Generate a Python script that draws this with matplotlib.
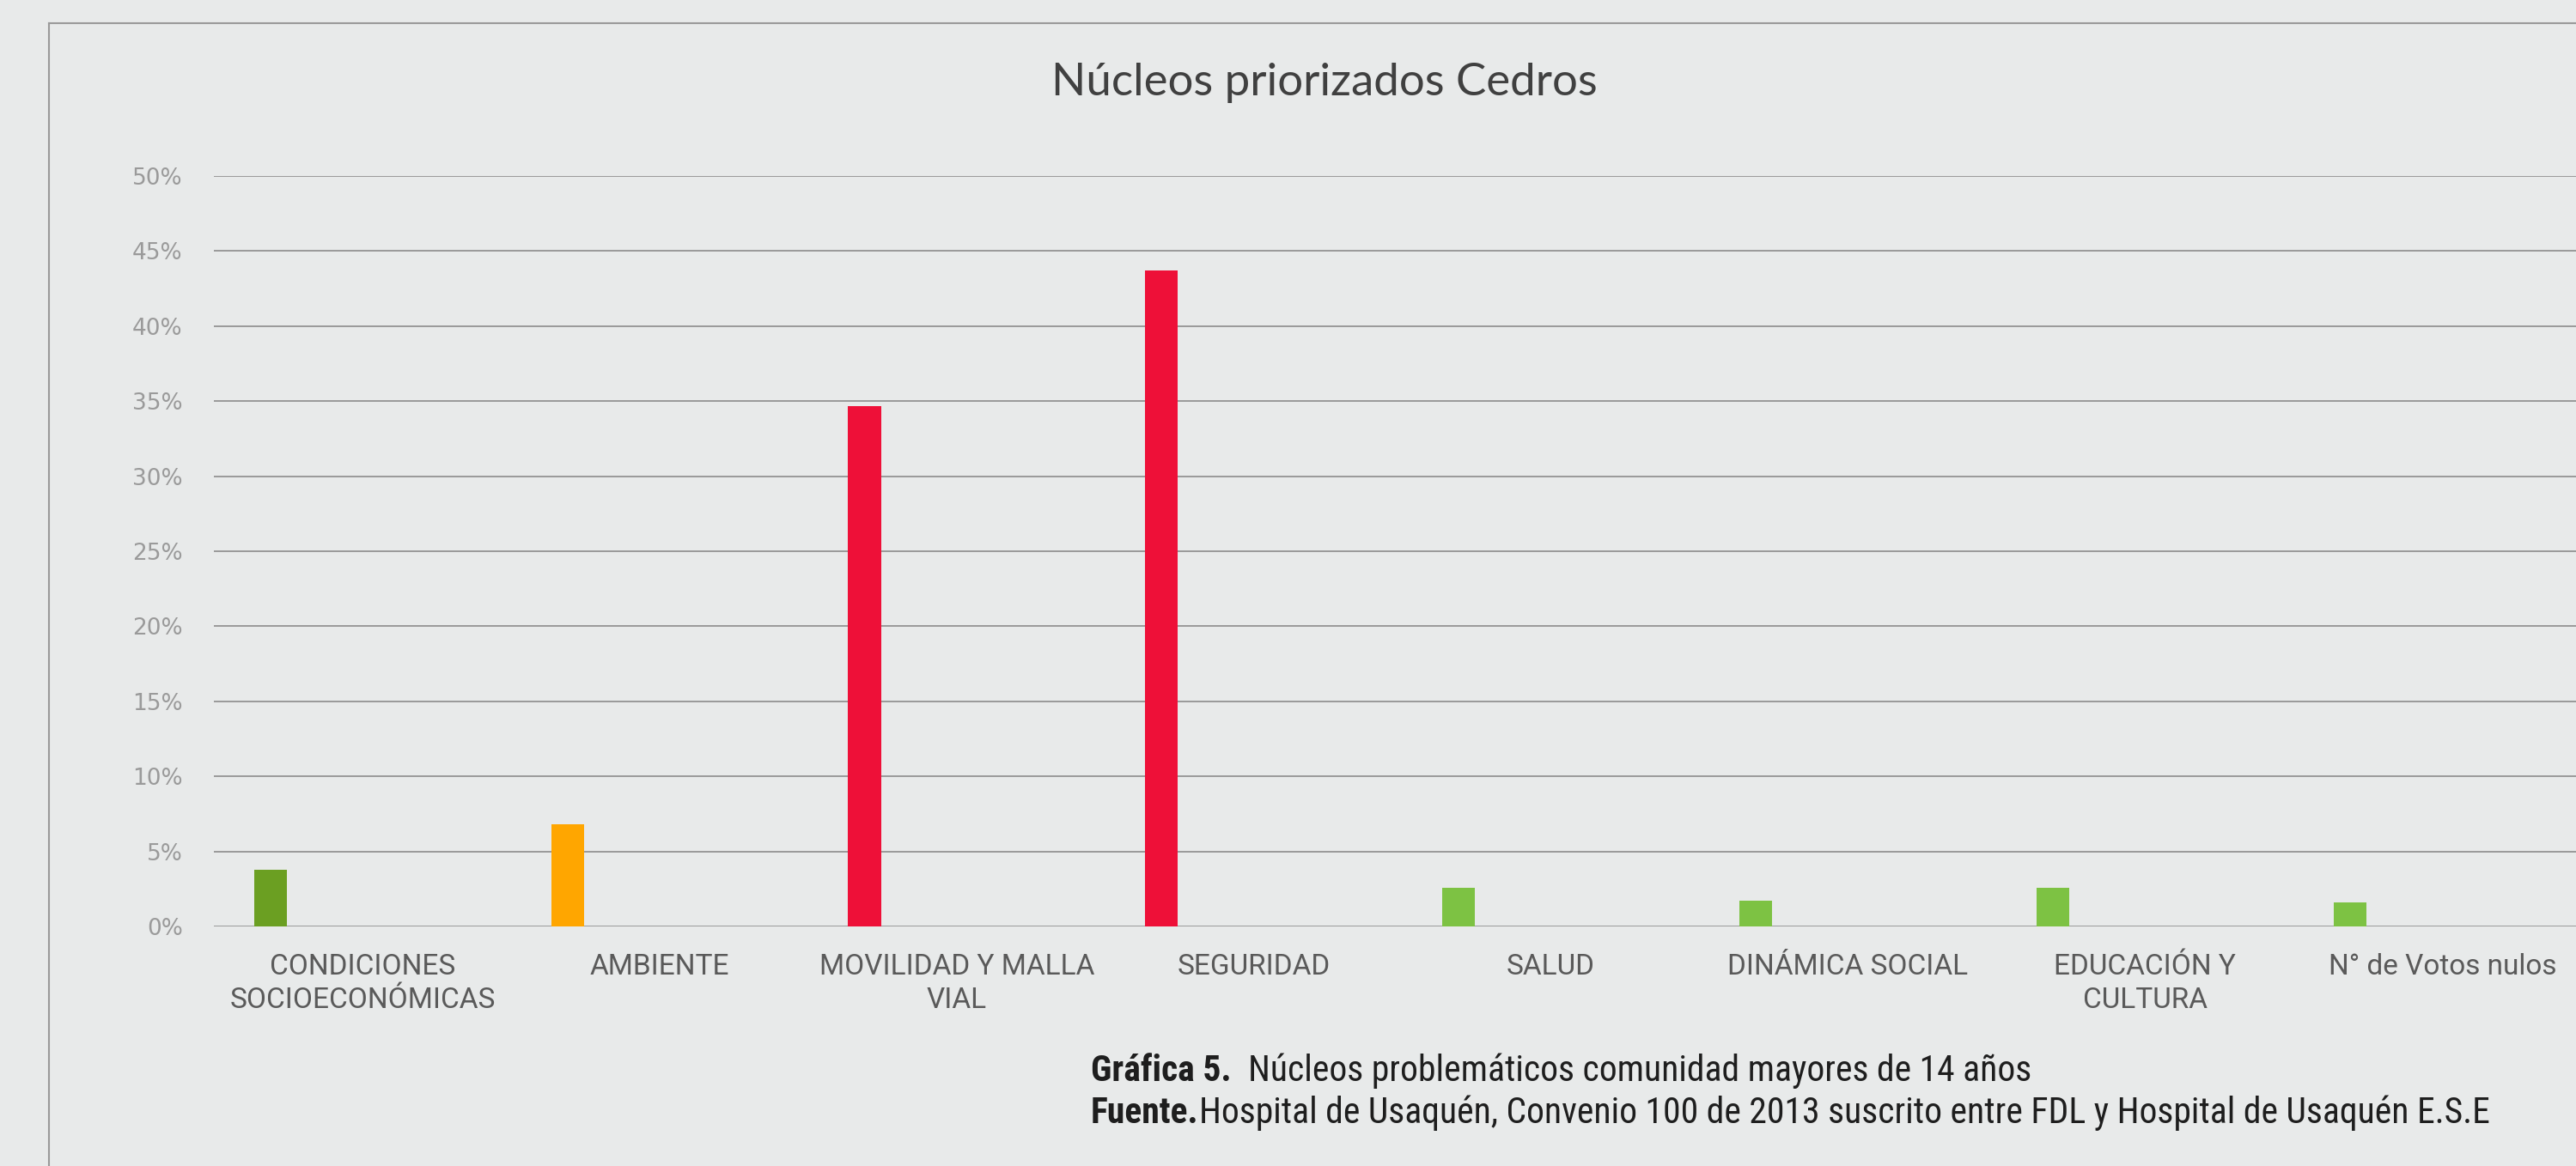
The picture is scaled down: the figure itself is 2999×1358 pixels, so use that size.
import numpy as np
import matplotlib
matplotlib.use("Agg")
import matplotlib.pyplot as plt

# data
categories = ["CONDICIONES\nSOCIOECONÓMICAS", "AMBIENTE", "MOVILIDAD Y MALLA\nVIAL", "SEGURIDAD",
              "SALUD", "DINÁMICA SOCIAL", "EDUCACIÓN Y\nCULTURA", "N° de Votos nulos"]
values = [0.038, 0.068, 0.347, 0.437, 0.026, 0.017, 0.026, 0.016]
bar_colors = ["#6b9f22", "#ffa600", "#ee1038", "#ee1038", "#7dc243", "#7dc243", "#7dc243", "#7dc243"]
y_ticks = [0, 0.05, 0.10, 0.15, 0.20, 0.25, 0.30, 0.35, 0.40, 0.45, 0.50]

bg = "#e8eaea"
narrow = ["Roboto Condensed", "Lato", "DejaVu Sans"]

fig = plt.figure(figsize=(29.99, 13.58), dpi=100, facecolor=bg)
ax = fig.add_axes([0.083, 0.2054, 0.917, 0.6436], facecolor=bg)

x = np.arange(len(categories))
ax.bar(x - 0.31, values, width=0.11, color=bar_colors, zorder=3)

ax.set_xlim(-0.5, 7.45)
ax.set_ylim(0, 0.5)
ax.set_yticks(y_ticks)
ax.set_yticklabels([f"{int(round(t * 100))}%" for t in y_ticks])
ax.yaxis.grid(True, color="#999999", linewidth=1.4, zorder=0)
ax.tick_params(axis="y", length=0, pad=26, labelsize=19, labelcolor="#9a9a9a")
ax.set_xticks(x)
ax.set_xticklabels(categories, fontsize=24, color="#5a5a5a", family=["Roboto", "DejaVu Sans"],
                   linespacing=1.3)
ax.tick_params(axis="x", length=0, pad=22)
for s in ax.spines.values():
    s.set_visible(False)

fig.text(0.514, 0.929, "Núcleos priorizados Cedros", ha="center", va="center",
         fontsize=38, color="#404040", family=["Lato", "DejaVu Sans"])

# frame of the printed figure
fig.add_artist(plt.Line2D([0.019, 1.0], [0.980, 0.980], color="#9a9a9a", lw=1.5))
fig.add_artist(plt.Line2D([0.019, 0.019], [0.980, 0.0], color="#9a9a9a", lw=1.5))

# caption
cap = dict(fontsize=30, color="#1e1e1e", family=narrow, va="bottom")
t1 = fig.text(0.4235, 0.066, "Gráfica 5.", fontweight="bold", **cap)
ax.annotate("  Núcleos problemáticos comunidad mayores de 14 años", xy=(1, 0), xycoords=t1,
            annotation_clip=False, **cap)
t2 = fig.text(0.4235, 0.030, "Fuente.", fontweight="bold", **cap)
ax.annotate("Hospital de Usaquén, Convenio 100 de 2013 suscrito entre FDL y Hospital de Usaquén E.S.E",
            xy=(1, 0), xycoords=t2, annotation_clip=False, **cap)

fig.savefig("out.png", dpi=100, facecolor=bg)
